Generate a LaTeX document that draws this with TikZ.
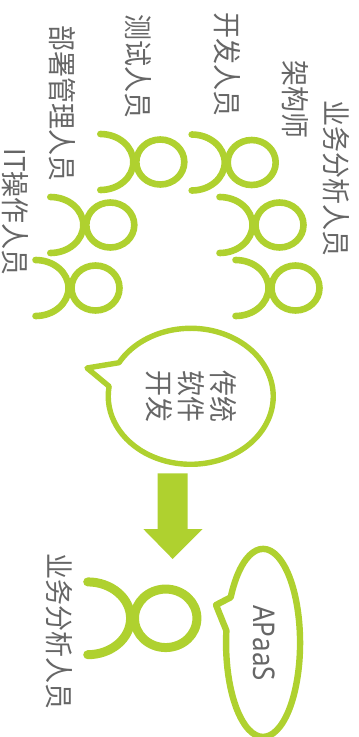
\documentclass[tikz,border=0pt]{standalone}
\usepackage{fontspec}
\setmainfont{Noto Sans}
\newfontfamily\cjkfont{Noto Sans CJK SC}
\definecolor{leaf}{HTML}{AFD12F}
\definecolor{ink}{HTML}{666666}
\tikzset{
  x=1pt,y=1pt,
  label text/.style={rotate=-90,yscale=1.1,text=ink,inner sep=0pt,font=\fontsize{26}{29.4}\selectfont\cjkfont,align=center},
  outline/.style={draw=leaf,line join=round,line cap=round},
  person/.pic={
    \draw[outline] (0,0) ellipse[x radius=24,y radius=22.5];
    \draw[outline] (-60,28) arc[start angle=90,end angle=-90,x radius=33,y radius=28];
  }
}
\begin{document}
\begin{tikzpicture}
\useasboundingbox (0,0) rectangle (359,-737);
\clip (0,0) rectangle (359,-737);
% people
\pic[line width=6.6pt] (p1) at (295.5,-288) {person};
\pic[line width=6.6pt] (p2) at (279.5,-225) {person};
\pic[line width=6.6pt] (p3) at (251.7,-162.5) {person};
\pic[line width=6.6pt] (p4) at (160.3,-162) {person};
\pic[line width=6.6pt] (p5) at (110.3,-225) {person};
\pic[line width=6.6pt] (p6) at (95.5,-288) {person};
\pic[line width=9pt,scale=1.3] (p7) at (165.7,-618.3) {person};
% labels
\node[label text] (t1) at (336,-178) {业务分析人员};
\node[label text] (t2) at (295.5,-99) {架构师};
\node[label text] (t3) at (227.5,-64) {开发人员};
\node[label text] (t4) at (138,-66) {测试人员};
\node[label text] (t5) at (62,-103) {部署管理人员};
\node[label text] (t6) at (15,-212) {IT操作人员};
\node[label text] (t7) at (59.5,-631.7) {业务分析人员};
% bubbles
\draw[outline,line width=5.4pt] (87,-368) -- (119,-362.7)
  arc[start angle=150.4,end angle=-188.4,x radius=82.5,y radius=68] -- cycle;
\node[label text] (b1) at (191.5,-396) {传统\\软件\\开发};
\draw[outline,line width=6.4pt] (216,-605) -- (230.7,-597.3)
  arc[start angle=151,end angle=-187.5,x radius=37,y radius=94] -- cycle;
\node[rotate=-90,yscale=1.15,text=ink,inner sep=0pt,font=\fontsize{26}{30}\selectfont] (b2) at (264,-643) {APaaS};
% arrow
\fill[leaf] (157.7,-473.3) -- (187.7,-473.3) -- (187.7,-529) -- (202.7,-529)
  -- (172.7,-559) -- (143.3,-529) -- (157.7,-529) -- cycle;
\end{tikzpicture}
\end{document}
